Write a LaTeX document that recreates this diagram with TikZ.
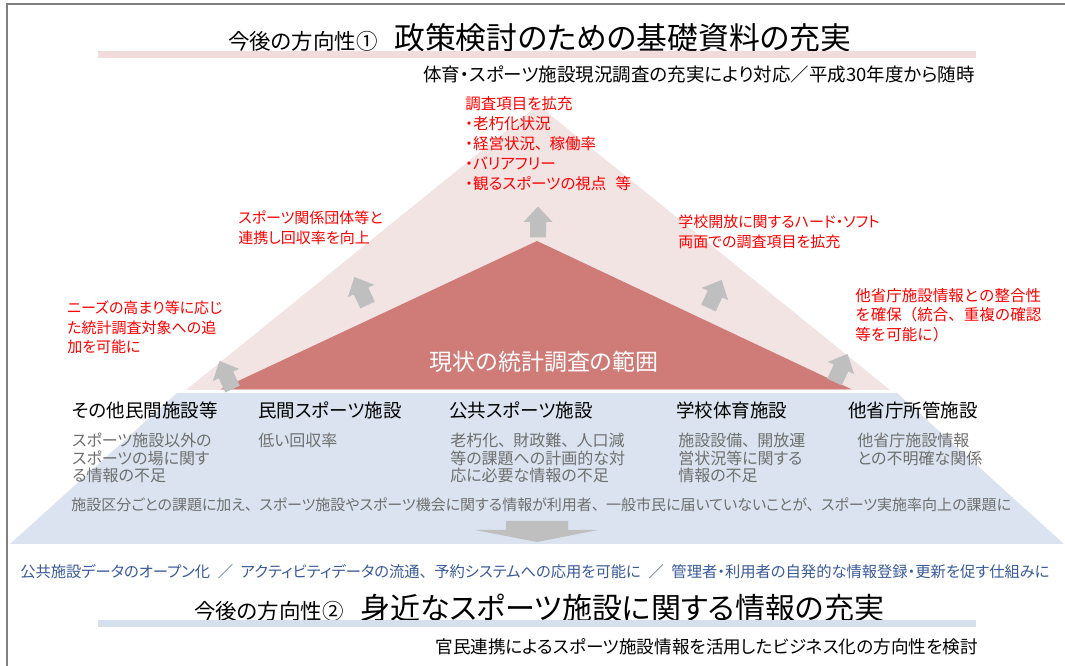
\documentclass[tikz,border=0pt]{standalone}
\usepackage{fontspec}
\setmainfont{Noto Sans CJK JP}[RawFeature=+palt]
\newfontfamily\jpfull{Noto Sans CJK JP}
\newcommand\px[2]{\fontsize{\fpeval{#1*0.75}}{\fpeval{#2*0.75}}\selectfont}
\newcommand\tn{、\kern0.45em}
\newcommand\slsep{\hspace{0.5em}／\hspace{0.5em}}
\definecolor{framegray}{HTML}{808080}
\definecolor{pinkband}{HTML}{F2DCDB}
\definecolor{pinktri}{HTML}{F3E4E4}
\definecolor{darkred}{HTML}{CF7B78}
\definecolor{bluezone}{HTML}{DAE3EF}
\definecolor{blueband}{HTML}{D6DFEC}
\definecolor{arrowgray}{HTML}{BFBFBF}
\definecolor{redtext}{HTML}{FF0000}
\definecolor{desctext}{HTML}{6F6F6F}
\definecolor{bluetext}{HTML}{3A5A99}
\newcommand\garrow[3]{\fill[arrowgray, shift={(#1,#2)}, rotate=#3] (-15.5,-8) -- (0,-8) -- (0,-14.5) -- (15.5,0) -- (0,14.5) -- (0,8) -- (-15.5,8) -- cycle;}
\begin{document}
\begin{tikzpicture}[x=0.75pt,y=-0.75pt,
  t/.style={inner sep=0pt, anchor=base west},
  te/.style={inner sep=0pt, anchor=base east},
  ml/.style={inner sep=0pt, anchor=north west, align=left},
  redt/.style={ml, text=redtext, font=\px{15}{19.5}},
  head/.style={ml, font=\px{18.5}{20}},
  desc/.style={ml, text=desctext, font=\px{16}{17.5}}]
\useasboundingbox (0,0) rectangle (1065,666);
\fill[white] (0,0) rectangle (1065,666);
% frame
\draw[framegray, line width=2] (7,666) -- (7,4) -- (1065,4);
% title 1
\node[t, font=\px{21.5}{24}] (t1a) at (228,50) {今後の方向性①};
\node[t, font=\px{30.8}{34}] (t1b) at (394,50) {政策検討のための基礎資料の充実};
\fill[pinkband] (98,51) rectangle (976,58);
\node[te, font=\px{18.5}{20}] (s1) at (975,82) {体育・スポーツ施設現況調査の充実により対応／平成30年度から随時};
% triangles
\fill[pinktri] (538,105) -- (890,390) -- (186,390) -- cycle;
\fill[darkred] (537,241) -- (852,389.5) -- (220,389.5) -- cycle;
\fill[bluezone] (177,393) -- (897,393) -- (1064,544) -- (10,544) -- cycle;
% arrows
\garrow{226}{375}{115}
\garrow{361}{291}{115}
\garrow{538}{222}{90}
\garrow{715}{294}{65}
\garrow{841}{368}{65}
\fill[arrowgray] (506,521) -- (568,521) -- (568,530) -- (598,530) -- (537,542) -- (475,530) -- (506,530) -- cycle;
% red texts
\node[redt, font=\px{15.5}{20}] (r1) at (465,96.5) {調査項目を拡充\\・老朽化状況\\・経営状況\tn 稼働率\\・バリアフリー\\・観るスポーツの視点\hspace{0.6em}等};
\node[redt] (r2) at (238,211) {スポーツ関係団体等と\\連携し回収率を向上};
\node[redt] (r3) at (67,301) {ニーズの高まり等に応じ\\た統計調査対象への追\\加を可能に};
\node[redt] (r4) at (678,215) {学校開放に関するハード・ソフト\\両面での調査項目を拡充};
\node[redt, font=\jpfull\px{15.5}{19.5}] (r5) at (855,288) {他省庁施設情報との整合性\\を確保（統合、重複の確認\\等を可能に）};
\node[inner sep=0pt, text=white, font=\px{23}{25}] (scope) at (544,362) {現状の統計調査の範囲};
% categories
\node[head] (h1) at (72,401.5) {その他民間施設等};
\node[head] (h2) at (258,401.5) {民間スポーツ施設};
\node[head] (h3) at (449,401.5) {公共スポーツ施設};
\node[head] (h4) at (676,401.5) {学校体育施設};
\node[head] (h5) at (848,401.5) {他省庁所管施設};
\node[desc] (d1) at (72,433) {スポーツ施設以外の\\スポーツの場に関す\\る情報の不足};
\node[desc] (d2) at (258,433) {低い回収率};
\node[desc] (d3) at (450,433) {老朽化\tn 財政難\tn 人口減\\等の課題への計画的な対\\応に必要な情報の不足};
\node[desc] (d4) at (678,433) {施設設備\tn 開放運\\営状況等に関する\\情報の不足};
\node[desc] (d5) at (857,433) {他省庁施設情報\\との不明確な関係};
\node[t, text=desctext, font=\px{15}{18}] (issue) at (71,510.7) {施設区分ごとの課題に加え\tn スポーツ施設やスポーツ機会に関する情報が利用者\tn 一般市民に届いていないことが\tn スポーツ実施率向上の課題に};
% blue line
\node[t, text=bluetext, font=\px{15.3}{18}] (open) at (20,577.8) {公共施設データのオープン化\slsep アクティビティデータの流通\tn 予約システムへの応用を可能に\slsep 管理者・利用者の自発的な情報登録・更新を促す仕組みに};
% title 2
\node[t, font=\px{21.5}{24}] (t2a) at (194,619) {今後の方向性②};
\node[t, font=\px{30}{34}] (t2b) at (360,619) {身近なスポーツ施設に関する情報の充実};
\fill[blueband] (98,620) rectangle (976,627);
\node[te, font=\px{17.6}{20}] (s2) at (978,653.5) {官民連携によるスポーツ施設情報を活用したビジネス化の方向性を検討};
\end{tikzpicture}
\end{document}
